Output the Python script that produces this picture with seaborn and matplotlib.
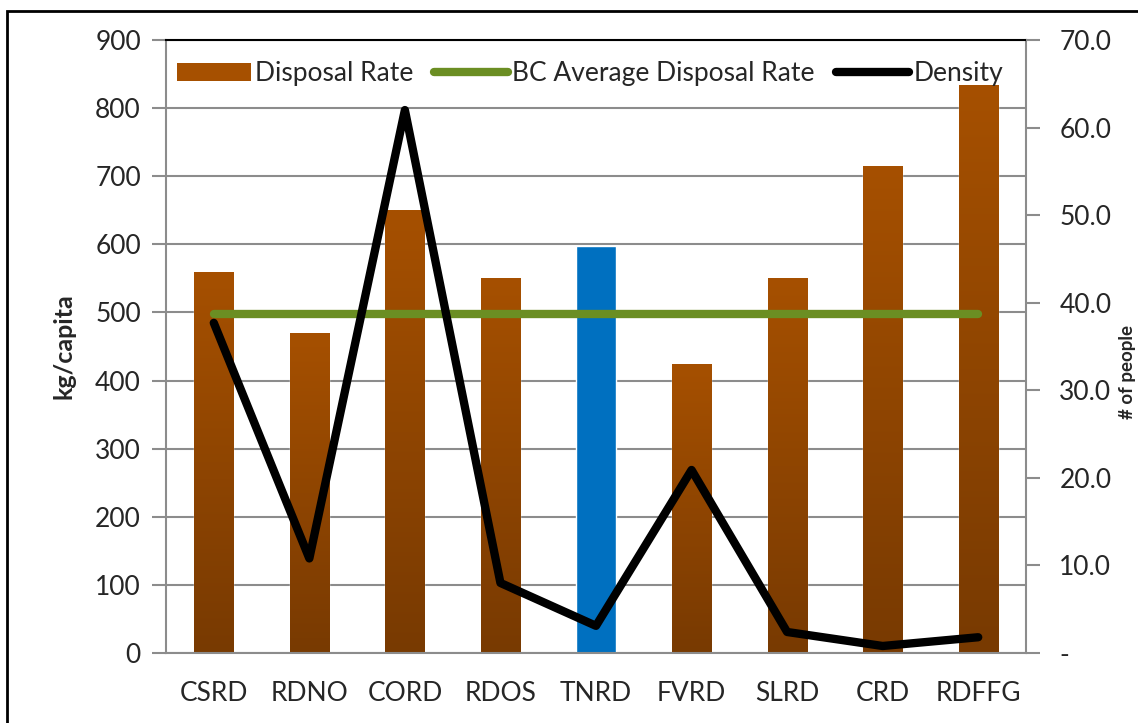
import numpy as np
import pandas as pd
import matplotlib
matplotlib.use("Agg")
import matplotlib.pyplot as plt
import seaborn as sns
from matplotlib.patches import Rectangle
from matplotlib.lines import Line2D
from matplotlib.colors import LinearSegmentedColormap

# Regional district data
districts = ["CSRD", "RDNO", "CORD", "RDOS", "TNRD", "FVRD", "SLRD", "CRD", "RDFFG"]
disposal_rate = [560, 470, 650, 550, 597, 425, 550, 715, 834]
density = [37.7, 10.8, 62.0, 8.0, 3.1, 20.9, 2.4, 0.8, 1.8]
bc_average = 498
highlight = "TNRD"

left_ticks = [0, 100, 200, 300, 400, 500, 600, 700, 800, 900]
right_ticks = [0, 10, 20, 30, 40, 50, 60, 70]
right_labels = ["-", "10.0", "20.0", "30.0", "40.0", "50.0", "60.0", "70.0"]

sns.set_theme(style="white")
plt.rcParams["font.family"] = ["Lato", "DejaVu Sans"]

df = pd.DataFrame({"district": districts, "rate": disposal_rate, "density": density})

fig = plt.figure(figsize=(11.38, 7.23), dpi=100)
ax = fig.add_axes([166 / 1138, 1 - 653 / 723, (1026 - 166) / 1138, (653 - 40) / 723])

grid_col = "#8c8c8c"
brown_top = "#a65000"
brown_bot = "#783a02"
blue = "#0070c0"
green = "#6b8e23"
fs = 19

sns.barplot(data=df, x="district", y="rate", ax=ax, width=0.41,
            color=brown_top, saturation=1, zorder=2)

# vertical gradient fill for the brown bars
grad_cmap = LinearSegmentedColormap.from_list("brn", [brown_bot, brown_top])
grad = np.linspace(0, 1, 256).reshape(-1, 1)
for patch, name in zip(ax.patches, districts):
    x0, y0 = patch.get_x(), patch.get_y()
    w, h = patch.get_width(), patch.get_height()
    if name == highlight:
        patch.set_facecolor(blue)
        continue
    im = ax.imshow(grad, cmap=grad_cmap, origin="lower", aspect="auto",
                   extent=[x0, x0 + w, y0, y0 + h], zorder=2.1)
    im.set_clip_path(patch)
    patch.set_facecolor("none")

ax.set_xlim(-0.5, len(districts) - 0.5)
ax.set_ylim(0, 900)
ax.set_yticks(left_ticks)
ax.set_yticklabels([str(t) for t in left_ticks], fontsize=fs)
ax.yaxis.grid(True, color=grid_col, lw=1.5, zorder=0)
ax.set_axisbelow(True)

# BC average line across all districts
ax.plot([0, len(districts) - 1], [bc_average, bc_average], color=green,
        lw=6, zorder=3, solid_capstyle="round")

ax.set_xlabel("")
ax.set_ylabel("kg/capita", fontsize=18, fontweight="bold", labelpad=14)
ax.set_xticks(np.arange(len(districts)))
ax.set_xticklabels(districts, fontsize=fs)
ax.set_xticks(np.arange(-0.5, len(districts)), minor=True)
ax.tick_params(axis="x", which="major", length=0, pad=20)
ax.tick_params(axis="x", which="minor", length=9, width=1.5, color=grid_col, direction="out")
ax.tick_params(axis="y", length=10, width=1.5, color=grid_col, direction="out", pad=8)

for side in ["left", "bottom", "right"]:
    ax.spines[side].set_color(grid_col)
    ax.spines[side].set_linewidth(1.5)
ax.spines["top"].set_color("black")
ax.spines["top"].set_linewidth(1.5)

# density on secondary axis
ax2 = ax.twinx()
sns.lineplot(data=df, x="district", y="density", ax=ax2, color="black",
             lw=6, zorder=4, sort=False)
ax2.set_ylim(0, 70)
ax2.set_yticks(right_ticks)
ax2.set_yticklabels(right_labels, fontsize=fs)
ax2.tick_params(axis="y", which="both", length=10, width=1.5, color=grid_col,
                direction="out", pad=14)
ax2.set_ylabel("")
for side in ["left", "bottom", "right", "top"]:
    ax2.spines[side].set_visible(False)
ax2.grid(False)

# right axis title, placed close to the figure edge
fig.text(1127 / 1138, 1 - 372 / 723, "# of people", rotation=90, ha="center",
         va="center", fontsize=13.5, fontweight="bold")

# legend
handles = [
    Rectangle((0, 0), 1, 1, facecolor=brown_top, edgecolor="none"),
    Line2D([0], [0], color=green, lw=6),
    Line2D([0], [0], color="black", lw=6),
]
ax.legend(handles, ["Disposal Rate", "BC Average Disposal Rate", "Density"],
          loc="upper center", bbox_to_anchor=(0.493, 1.0), ncol=3, frameon=False,
          fontsize=19, handlelength=2.8, handletextpad=0.15, columnspacing=0.8,
          borderaxespad=0.4)

# outer chart border
fig.patches.append(Rectangle((7 / 1138, -0.05), 1.2, 1 - 11 / 723 + 0.05,
                             transform=fig.transFigure, fill=False,
                             edgecolor="black", lw=2))

fig.savefig("out.png", dpi=100)
